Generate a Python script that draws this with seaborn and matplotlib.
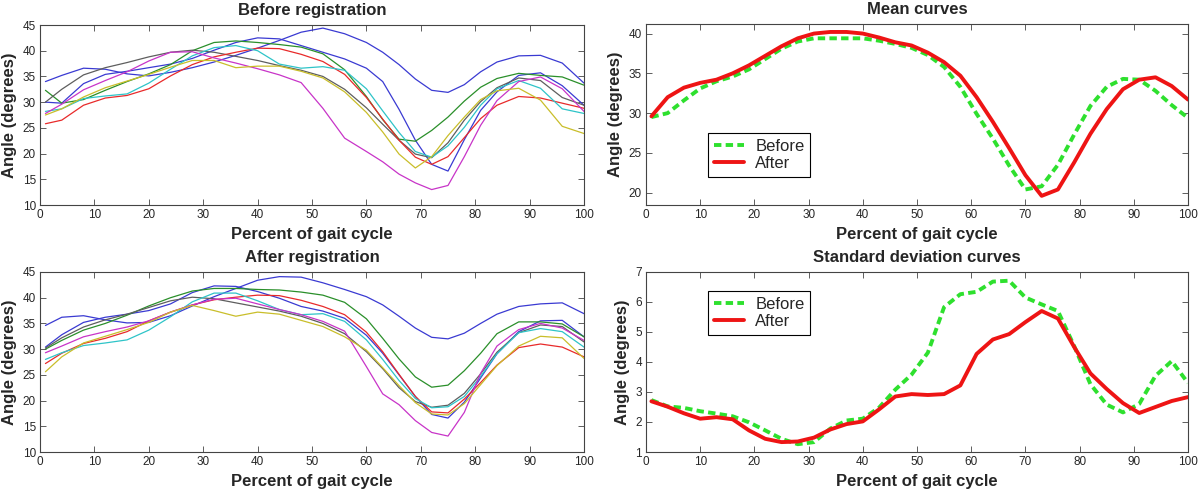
import matplotlib
matplotlib.use("Agg")
import matplotlib.pyplot as plt
import seaborn as sns
import pandas as pd
import numpy as np

sns.set_style("ticks")
plt.rcParams['font.family'] = ['Liberation Sans', 'DejaVu Sans']

# ====================== DATA ======================
# individual knee-angle curves (degrees)
pct = [1, 4, 8, 12, 16, 20, 24, 28, 32, 36, 40, 44, 48, 52, 56, 60,
       63, 66, 69, 72, 75, 78, 81, 84, 88, 92, 96, 100]

before_blue1 = [34.0, 35.2, 36.6, 36.4, 35.5, 35.1, 35.8, 36.7, 37.8, 39.1, 40.5, 42.0, 43.6, 44.4,
                43.3, 41.6, 39.7, 37.3, 34.5, 32.3, 31.9, 33.4, 35.9, 37.8, 39.0, 39.1, 37.6, 33.7]
before_blue2 = [30.0, 29.8, 33.6, 35.4, 36.0, 36.7, 37.4, 38.5, 40.1, 41.6, 42.5, 42.3, 41.0, 39.7,
                38.4, 36.6, 34.0, 28.6, 22.6, 17.9, 16.6, 22.7, 28.4, 32.0, 35.2, 35.7, 33.2, 29.4]
before_green = [32.3, 29.8, 30.5, 32.3, 34.0, 35.5, 37.3, 40.0, 41.6, 41.9, 41.6, 41.2, 40.7, 39.4,
                36.3, 31.1, 26.6, 22.8, 22.4, 24.5, 27.1, 30.2, 32.9, 34.6, 35.6, 35.2, 34.9, 33.3]
before_gray = [30.0, 32.5, 35.3, 36.7, 37.7, 38.8, 39.7, 40.1, 39.7, 38.9, 38.1, 37.1, 36.2, 35.0,
               32.5, 28.9, 25.7, 22.6, 19.9, 19.2, 22.1, 26.5, 30.1, 32.8, 34.7, 34.2, 30.9, 29.4]
before_red = [25.8, 26.5, 29.4, 30.8, 31.3, 32.6, 35.1, 37.3, 38.8, 39.7, 40.5, 40.4, 39.3, 37.9,
              35.4, 30.9, 26.7, 22.6, 19.3, 17.9, 19.4, 23.1, 26.8, 29.4, 31.1, 30.8, 29.8, 28.8]
before_cyan = [28.2, 28.7, 30.7, 31.2, 31.6, 33.7, 36.4, 39.0, 40.6, 41.0, 40.0, 37.4, 36.6, 36.9,
               36.2, 32.6, 28.3, 24.1, 20.4, 19.3, 21.5, 25.1, 29.4, 32.6, 34.2, 32.7, 28.7, 27.8]
before_magenta = [27.8, 29.6, 32.4, 34.2, 35.9, 38.0, 39.7, 39.8, 38.6, 37.6, 36.5, 35.3, 33.8, 28.8,
                  23.0, 20.4, 18.4, 16.0, 14.3, 13.0, 13.8, 19.4, 25.5, 30.3, 34.0, 34.9, 32.6, 28.2]
before_yellow = [27.5, 28.7, 31.0, 32.8, 34.1, 35.4, 36.8, 38.1, 38.1, 36.7, 37.0, 37.0, 36.0, 34.7,
                 32.0, 28.0, 24.2, 19.9, 17.2, 19.4, 23.5, 27.1, 30.5, 32.2, 32.7, 30.4, 25.3, 23.9]

after_blue1 = [34.6, 36.2, 36.5, 35.7, 35.1, 35.2, 36.5, 38.4, 40.2, 41.8, 43.4, 44.1, 44.0, 42.9,
               41.6, 40.2, 38.6, 36.4, 34.1, 32.3, 32.0, 33.1, 35.0, 36.8, 38.3, 38.8, 39.0, 36.9]
after_blue2 = [30.4, 32.8, 35.2, 36.2, 36.8, 37.5, 38.8, 41.0, 42.3, 42.2, 41.2, 39.9, 38.3, 37.4,
               36.0, 32.7, 29.2, 25.0, 20.8, 17.3, 16.6, 19.7, 24.4, 29.1, 33.4, 35.5, 35.6, 32.4]
after_green = [30.0, 31.7, 33.7, 35.0, 36.6, 38.4, 40.0, 41.3, 41.8, 41.8, 41.6, 41.5, 41.1, 40.5,
               39.1, 35.9, 32.1, 28.1, 24.6, 22.6, 23.0, 25.8, 29.2, 33.0, 35.3, 35.3, 34.9, 32.4]
after_gray = [30.2, 32.2, 34.3, 35.7, 36.8, 38.1, 39.4, 40.1, 39.8, 39.0, 38.2, 37.4, 36.4, 35.0,
              33.0, 29.5, 26.2, 22.5, 19.8, 18.7, 19.1, 21.4, 25.2, 29.4, 33.2, 34.7, 34.4, 31.4]
after_red = [27.2, 29.2, 31.1, 32.1, 33.4, 35.5, 37.2, 38.6, 39.6, 40.1, 40.5, 40.4, 39.5, 38.3,
             36.7, 33.3, 29.5, 25.1, 20.8, 17.8, 17.6, 20.3, 23.5, 26.9, 30.3, 31.0, 30.4, 28.5]
after_cyan = [28.0, 29.3, 30.7, 31.2, 31.8, 33.7, 36.3, 39.2, 40.9, 40.9, 39.4, 37.7, 36.7, 36.9,
              35.4, 31.8, 28.0, 23.9, 20.4, 18.6, 18.8, 20.8, 24.7, 29.1, 33.2, 34.0, 33.4, 30.4]
after_magenta = [29.3, 30.6, 32.4, 33.4, 34.3, 35.5, 37.2, 38.6, 39.7, 39.9, 38.8, 37.7, 36.7, 35.4,
                 33.5, 26.6, 21.3, 19.2, 16.1, 13.8, 13.1, 17.7, 25.3, 30.6, 33.8, 35.0, 34.1, 31.7]
after_yellow = [25.6, 28.5, 31.2, 32.5, 33.8, 35.2, 37.2, 38.5, 37.5, 36.4, 37.2, 36.8, 35.6, 34.4,
                32.4, 29.8, 26.4, 22.9, 19.6, 17.4, 17.2, 19.4, 23.1, 26.8, 30.6, 32.5, 32.2, 28.2]

# summary curves
summary_pct = [1, 4, 7, 10, 13, 16, 19, 22, 25, 28, 31, 34, 37, 40, 43, 46, 49,
               52, 55, 58, 61, 64, 67, 70, 73, 76, 79, 82, 85, 88, 91, 94, 97, 100]
mean_before = [29.5, 30.0, 31.6, 33.1, 34.0, 34.6, 35.5, 36.8, 38.1, 39.0, 39.4, 39.4, 39.4, 39.4,
               39.1, 38.7, 38.2, 37.3, 35.8, 33.3, 29.9, 26.8, 23.4, 20.4, 20.8, 23.5, 27.3, 30.9,
               33.3, 34.3, 34.2, 32.8, 31.0, 29.4]
mean_after = [29.6, 32.0, 33.2, 33.8, 34.2, 35.0, 36.0, 37.2, 38.4, 39.4, 40.0, 40.2, 40.2, 40.0,
              39.5, 38.9, 38.5, 37.6, 36.4, 34.7, 32.0, 28.9, 25.6, 22.2, 19.6, 20.4, 23.8, 27.4,
              30.5, 33.0, 34.2, 34.5, 33.4, 31.7]
sd_before = [2.73, 2.52, 2.47, 2.36, 2.28, 2.19, 1.99, 1.72, 1.44, 1.26, 1.33, 1.78, 2.05, 2.11,
             2.48, 3.08, 3.58, 4.31, 5.83, 6.26, 6.34, 6.68, 6.71, 6.15, 5.92, 5.70, 4.53, 3.26,
             2.58, 2.32, 2.60, 3.54, 4.03, 3.30]
sd_after = [2.69, 2.51, 2.29, 2.11, 2.16, 2.09, 1.72, 1.44, 1.33, 1.35, 1.48, 1.75, 1.93, 2.02,
            2.42, 2.85, 2.93, 2.90, 2.93, 3.22, 4.27, 4.75, 4.93, 5.33, 5.70, 5.45, 4.50, 3.62,
            3.10, 2.63, 2.30, 2.50, 2.70, 2.83]

subjects = ['S1', 'S2', 'S3', 'S4', 'S5', 'S6', 'S7', 'S8']
subject_colors = dict(zip(subjects, ['#3a3ad2', '#3a3ad2', '#2a8f2a', '#5e5e5e',
                                     '#e82a2a', '#2ec4c8', '#c834c8', '#c9be2a']))
before_curves = [before_blue1, before_blue2, before_green, before_gray,
                 before_red, before_cyan, before_magenta, before_yellow]
after_curves = [after_blue1, after_blue2, after_green, after_gray,
                after_red, after_cyan, after_magenta, after_yellow]


def subject_frame(curves):
    return pd.DataFrame({
        'pct': pct * len(curves),
        'angle': np.concatenate(curves),
        'subject': np.repeat(subjects, len(pct)),
    })


def summary_frame(before, after):
    return pd.DataFrame({
        'pct': summary_pct * 2,
        'angle': before + after,
        'curve': ['Before'] * len(before) + ['After'] * len(after),
    })


# ====================== PLOT ======================
W, H = 1200, 490
fig = plt.figure(figsize=(12, 4.9), dpi=100)
ax_tl = fig.add_axes([40 / W, 1 - 205 / H, 544 / W, 180 / H])
ax_bl = fig.add_axes([40 / W, 1 - 452 / H, 544 / W, 180 / H])
ax_tr = fig.add_axes([646 / W, 1 - 205 / H, 542 / W, 181 / H])
ax_br = fig.add_axes([646 / W, 1 - 452 / H, 542 / W, 180 / H])

for ax, curves, title in [(ax_tl, before_curves, 'Before registration'),
                          (ax_bl, after_curves, 'After registration')]:
    sns.lineplot(data=subject_frame(curves), x='pct', y='angle', hue='subject',
                 palette=subject_colors, lw=0.9, legend=False, errorbar=None, ax=ax)
    ax.set_xlim(0, 100)
    ax.set_ylim(10, 45)
    ax.set_yticks(range(10, 46, 5))
    ax.set_title(title, fontsize=12, fontweight='bold', pad=7)

summary_palette = {'Before': '#2ee02e', 'After': '#ee1414'}
summary_dashes = {'Before': (1.9, 1.1), 'After': ''}
for ax, before, after, title, ylim, yticks, anchor in [
        (ax_tr, mean_before, mean_after, 'Mean curves', (18.45, 41.2), range(20, 41, 5), (0.114, 0.398)),
        (ax_br, sd_before, sd_after, 'Standard deviation curves', (1, 7), range(1, 8), (0.114, 0.896))]:
    sns.lineplot(data=summary_frame(before, after), x='pct', y='angle', hue='curve', style='curve',
                 palette=summary_palette, dashes=summary_dashes, lw=2.8, errorbar=None, ax=ax)
    ax.set_xlim(0, 100)
    ax.set_ylim(*ylim)
    ax.set_yticks(list(yticks))
    ax.set_title(title, fontsize=12, fontweight='bold', pad=7)
    sns.move_legend(ax, 'upper left', bbox_to_anchor=anchor, title=None, frameon=True,
                    fontsize=12, fancybox=False, edgecolor='black', framealpha=1,
                    borderaxespad=0, handlelength=1.8, handletextpad=0.7,
                    labelspacing=0.15, borderpad=0.35)
    ax.get_legend().get_frame().set_linewidth(0.8)

for ax in [ax_tl, ax_bl, ax_tr, ax_br]:
    ax.set_xticks(range(0, 101, 10))
    ax.set_xlabel('Percent of gait cycle', fontsize=12, fontweight='bold')
    ax.set_ylabel('Angle (degrees)', fontsize=12, fontweight='bold')
    ax.tick_params(direction='in', top=True, right=True, length=4, width=0.6,
                   labelsize=8.5, pad=3, color='#444444')
    for spine in ax.spines.values():
        spine.set_color('#444444')
        spine.set_linewidth(0.8)

fig.savefig('out.png', dpi=100)
